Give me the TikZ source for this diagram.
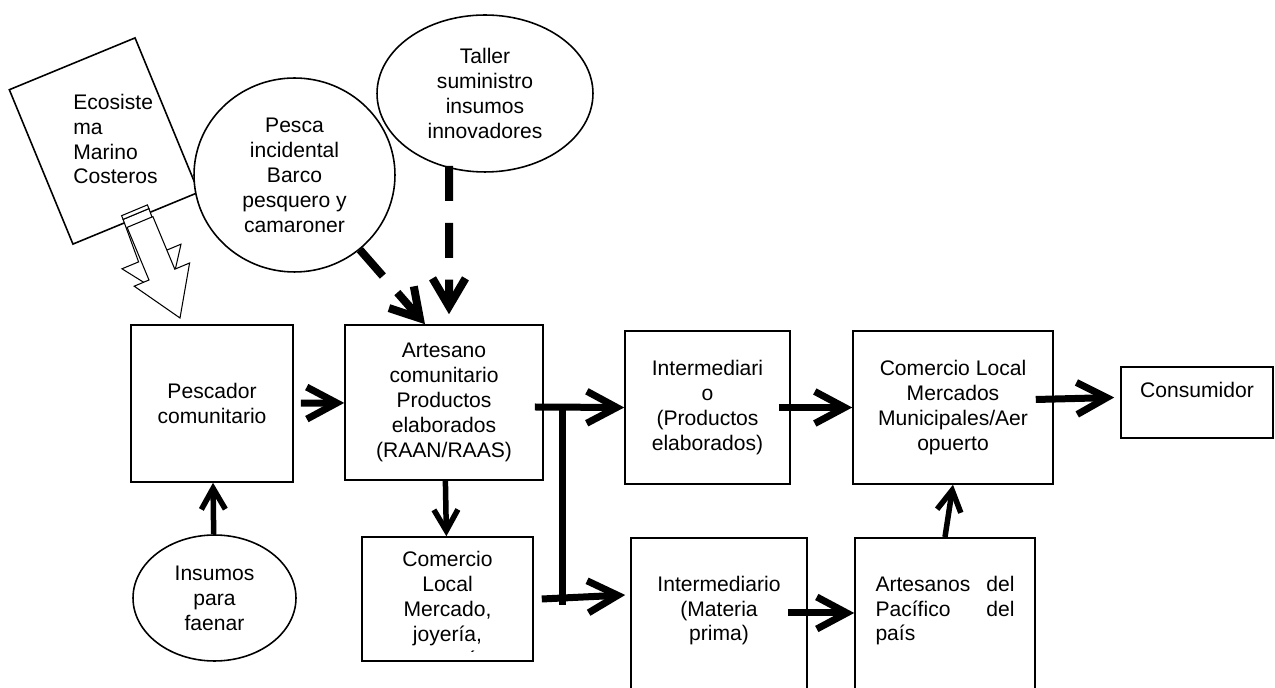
\documentclass[tikz,border=0pt]{standalone}
\usepackage{fontspec}
\setmainfont{Liberation Sans}
\usetikzlibrary{positioning,arrows.meta,shapes.geometric}

\begin{document}
\begin{tikzpicture}[x=0.02cm, y=-0.02cm,
    flow/.style={%
      line width=0.14cm,
      -{Straight Barb[length=0.6cm,width=0.64cm]},
    },
    flowthin/.style={%
      line width=0.11cm,
      -{Straight Barb[length=0.42cm,width=0.48cm]},
    },
    dflow/.style={%
      line width=0.16cm,
      dash pattern=on 0.7cm off 0.44cm,
      -{Straight Barb[length=0.56cm,width=0.66cm]},
    },
  ]

\tikzstyle{box} = [rectangle, draw=black, line width=0.9pt, fill=white, align=center, inner sep=0pt, font=\fontsize{12}{14.2}\selectfont]

\tikzstyle{oval} = [ellipse, draw=black, line width=0.9pt, fill=white, align=center, inner sep=0pt, font=\fontsize{12}{14.2}\selectfont]

\tikzstyle{blockarrow} = [draw=black, line width=0.6pt, fill=white, line join=miter]

    \useasboundingbox (0,0) rectangle (1275,688);
    \clip (0,0) rectangle (1275,688);

    \node [box, rotate=22.4, minimum width=2.72cm, minimum height=3.34cm] (eco) at (104,141) {};
    \node [font=\fontsize{12}{14.2}\selectfont, align=left, anchor=west, inner sep=0pt] (ecotxt) at (73,139) {Ecosiste\\ma\\Marino\\Costeros};

    \path [blockarrow] (123.1,219.4) -- (148.9,208.6) -- (164.4,251.1) -- (181,244.2) -- (168.8,298) -- (122,268.8) -- (138.6,261.9) -- cycle;
    \path [blockarrow] (121.6,215.7) -- (147.4,204.9) -- (148.9,208.6) -- (123.1,219.4) -- cycle;
    \path [blockarrow] (127.1,227.4) -- (152.9,216.6) -- (174.8,269.2) -- (189.6,263) -- (180,318) -- (134.2,286.2) -- (149,280) -- cycle;

    \node [oval, minimum width=4.02cm, minimum height=3.88cm] (pes) at (294.5,175) {Pesca\\incidental\\Barco\\pesquero y\\camaroner};
    \path (pes) ++(190.5,-81.5) node [oval, minimum width=4.32cm, minimum height=3.14cm] (tal) {Taller\\suministro\\insumos\\innovadores};

    \node [box, minimum width=3.24cm, minimum height=3.14cm] (pesc) at (212,403.5) {Pescador\\comunitario};
    \path (pesc) ++(232,-1) node [box, minimum width=3.96cm, minimum height=3.10cm] (art) {Artesano\\comunitario\\Productos\\elaborados\\(RAAN/RAAS)};
    \path (pesc) ++(2.5,194.5) node [oval, minimum width=3.26cm, minimum height=2.52cm] (ins) {Insumos\\para\\faenar};
    \path (art) ++(3.5,196.5) node [box, minimum width=3.42cm, minimum height=2.48cm] (com) {};
    \begin{scope}
      \clip ([yshift=0.21cm]com.south west) rectangle (com.north east);
      \node [font=\fontsize{12}{14.2}\selectfont, align=center] (comtxt) at ([yshift=-0.2cm]com.center) {Comercio\\Local\\Mercado,\\joyería,\\artesanías};
    \end{scope}

    \path (art) ++(263.5,5) node [box, minimum width=3.30cm, minimum height=3.06cm] (ipro) {Intermediari\\o\\(Productos\\elaborados)};
    \path (ipro) ++(245.5,0) node [box, minimum width=4.00cm, minimum height=3.06cm] (cmerc) {Comercio Local\\Mercados\\Municipales/Aer\\opuerto};
    \path (cmerc) ++(244,-5) node [box, minimum width=3.04cm, inner ysep=0.3cm, text depth=0.52cm] (cons) {Consumidor};

    \node [box, anchor=north, minimum width=3.52cm, inner ysep=0.76cm, text depth=2cm] (imat) at (719,537) {Intermediario\\(Materia\\prima)};
    \node [box, anchor=north, text width=2.78cm, inner xsep=0.41cm, inner ysep=0.76cm, text depth=2cm, align=left] (artp) at (945,537) {Artesanos\hfill del\\Pacífico\hfill del\\país};

    \coordinate (bt) at (562,408);
    \coordinate (bb) at (562,605);

    \draw [flow, shorten <=0.14cm] (pesc) -- (art);
    \draw [flowthin] (ins) -- (pesc);
    \draw [flowthin] (art) -- (com);
    \draw [flow] ([xshift=-0.18cm,yshift=-0.09cm]art.east) -- (ipro.west);
    \draw [line width=0.14cm] (bt) -- (bb);
    \draw [flow] ([xshift=0.16cm]com.east) -- ([xshift=-0.1cm,yshift=-1.16cm]imat.north west);
    \draw [flow] ([xshift=-0.24cm]ipro.east) -- (cmerc.west);
    \draw [flow] ([xshift=-0.4cm,yshift=-1.52cm]imat.north east) -- ([yshift=-1.52cm]artp.north west);
    \draw [flowthin] (artp.north) -- (cmerc.south);
    \draw [flow] ([xshift=-0.36cm,yshift=0.16cm]cmerc.east) -- ([xshift=-0.12cm,yshift=0.1cm]cons.west);
    \draw [dflow] (pes) -- ([xshift=-0.38cm]art.north);
    \draw [dflow] ([xshift=-0.72cm,yshift=0.14cm]tal.south) -- ([xshift=0.1cm,yshift=0.2cm]art.north);
\end{tikzpicture}
\end{document}
